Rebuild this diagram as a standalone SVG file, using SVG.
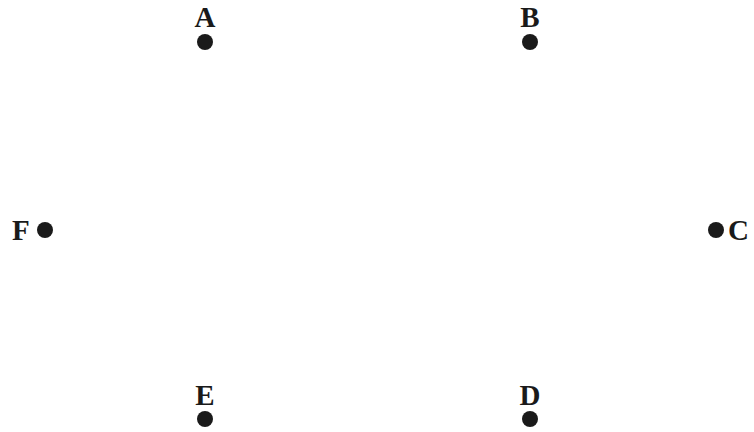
<svg xmlns="http://www.w3.org/2000/svg" width="754" height="432" viewBox="0 0 754 432">
<style>
.dot{fill:#1a1a1a}
.lbl{font-family:"Liberation Serif","Times New Roman",serif;font-weight:bold;font-size:29px;fill:#1a1a1a}
</style>
<rect width="754" height="432" fill="#fff"/>
<g id="connectors"></g>
<g id="A"><circle class="dot" cx="205" cy="42" r="8"/><text class="lbl" x="205" y="27" text-anchor="middle">A</text></g>
<g id="B"><circle class="dot" cx="530" cy="42" r="8"/><text class="lbl" x="530" y="27" text-anchor="middle">B</text></g>
<g id="C"><circle class="dot" cx="716" cy="230" r="8"/><text class="lbl" x="728" y="240">C</text></g>
<g id="D"><circle class="dot" cx="530" cy="419" r="8"/><text class="lbl" x="530" y="405" text-anchor="middle">D</text></g>
<g id="E"><circle class="dot" cx="205" cy="419" r="8"/><text class="lbl" x="205" y="405" text-anchor="middle">E</text></g>
<g id="F"><circle class="dot" cx="45" cy="230" r="8"/><text class="lbl" x="12" y="240">F</text></g>
</svg>
